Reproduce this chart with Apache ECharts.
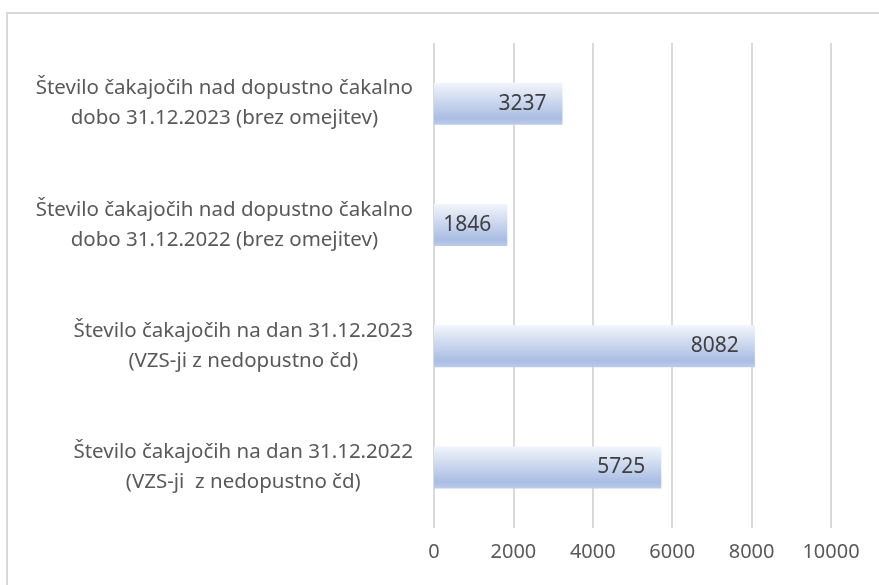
<!DOCTYPE html>
<html>
<head>
<meta charset="utf-8">
<script src="https://cdn.jsdelivr.net/npm/echarts@6/dist/echarts.min.js"></script>
<style>
  html, body { margin: 0; padding: 0; background: #fff; }
  #frame { position: absolute; left: 6px; top: 12px; width: 900px; height: 600px;
           border-left: 2px solid #d9d9d9; border-top: 2px solid #d9d9d9; }
  #main { position: absolute; left: 0; top: 0; width: 879px; height: 585px; }
</style>
</head>
<body>
<div id="frame"></div>
<div id="main"></div>
<script>
// kategorije od spodaj navzgor
const categories = [
  'Število čakajočih na dan 31.12.2022\n(VZS-ji  z nedopustno čd)',
  'Število čakajočih na dan 31.12.2023\n(VZS-ji z nedopustno čd)',
  'Število čakajočih nad dopustno čakalno\ndobo 31.12.2022 (brez omejitev)',
  'Število čakajočih nad dopustno čakalno\ndobo 31.12.2023 (brez omejitev)'
]
const values = [5725, 8082, 1846, 3237]
const xTicks = [0, 2000, 4000, 6000, 8000, 10000]

const font = 'Noto Sans'
const textColor = '#595959'

let myChart = echarts.init(document.getElementById('main'))

let option = {
  animation: false,
  grid: {
    left: 434,
    right: 48,
    top: 43,
    bottom: 57
  },
  xAxis: {
    type: 'value',
    min: xTicks[0],
    max: xTicks[xTicks.length - 1],
    interval: xTicks[1] - xTicks[0],
    axisLine: { show: false },
    axisTick: { show: false },
    splitLine: { lineStyle: { color: '#d9d9d9', width: 2 } },
    axisLabel: {
      color: textColor,
      fontFamily: font,
      fontSize: 20,
      margin: 14,
      formatter: v => String(v)
    }
  },
  yAxis: {
    type: 'category',
    data: categories,
    axisLine: { show: false },
    axisTick: { show: false },
    axisLabel: {
      align: 'right',
      margin: 21,
      formatter: function (v) {
        return v.split('\n').map(s => '{c|' + s + '}').join('\n')
      },
      rich: {
        c: {
          align: 'center',
          color: textColor,
          fontFamily: font,
          fontSize: 20.5,
          lineHeight: 30
        }
      }
    }
  },
  series: [
    {
      type: 'bar',
      data: values,
      barWidth: 42,
      itemStyle: {
        color: new echarts.graphic.LinearGradient(0, 0, 0, 1, [
          { offset: 0, color: '#f2f5fb' },
          { offset: 0.85, color: '#a9bde3' },
          { offset: 1, color: '#bccbea' }
        ])
      },
      label: {
        show: true,
        position: 'insideRight',
        distance: 16,
        color: '#404040',
        fontFamily: font,
        fontSize: 21
      }
    }
  ]
}

myChart.setOption(option)
</script>
</body>
</html>
